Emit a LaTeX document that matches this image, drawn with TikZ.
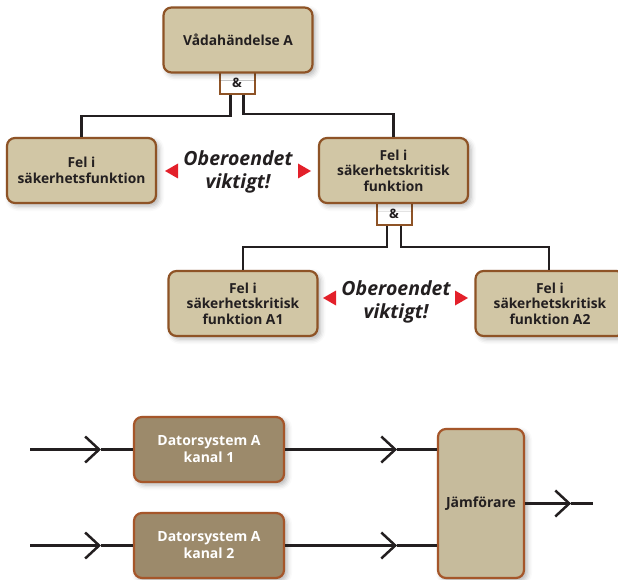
\documentclass[tikz,border=0pt]{standalone}
\usepackage{fontspec}
\setmainfont{Open Sans}
\usetikzlibrary{arrows.meta,shadows.blur}

\definecolor{boxfill}{HTML}{D1C6A5}
\definecolor{boxedge}{HTML}{8E5326}
\definecolor{darkfill}{HTML}{9C8A6B}
\definecolor{cmpfill}{HTML}{C6BB9C}
\definecolor{cmpedge}{HTML}{A5562A}
\definecolor{ink}{HTML}{231F20}
\definecolor{warnred}{HTML}{E3202A}

\begin{document}
\begin{tikzpicture}[x=1pt,y=-1pt,
  softshadow/.style={blur shadow={shadow xshift=3pt,shadow yshift=-3pt,
      shadow blur radius=5pt,shadow opacity=30}},
  event/.style={draw=boxedge,line width=2.2pt,fill=boxfill,rounded corners=8pt,
      minimum width=149pt,minimum height=65pt,inner sep=0pt,align=center,
      text=ink,font=\bfseries\fontsize{13.8}{15.5}\selectfont,softshadow},
  andgate/.style={draw=boxedge,line width=2pt,fill=white,minimum width=35pt,
      minimum height=23pt,inner sep=0pt,text=ink,
      font=\bfseries\fontsize{13}{13}\selectfont},
  wire/.style={line width=2.5pt,draw=ink},
  note/.style={align=center,text=ink,inner sep=0pt,
      font=\bfseries\itshape\fontsize{19.5}{23}\selectfont},
  warn/.style={fill=warnred},
  chev/.style={-{Straight Barb[length=14pt,width=26pt]}},
  sysbox/.style={draw=cmpedge,line width=2.2pt,fill=darkfill,rounded corners=8pt,
      minimum width=150pt,minimum height=65pt,inner sep=0pt,align=center,
      text=white,font=\bfseries\fontsize{14}{17}\selectfont,softshadow},
  cmpbox/.style={draw=cmpedge,line width=2.2pt,fill=cmpfill,rounded corners=8pt,
      minimum width=86pt,minimum height=149pt,inner sep=0pt,align=center,
      text=ink,font=\bfseries\fontsize{14}{17}\selectfont,softshadow}]
\useasboundingbox (0,0) rectangle (618,580);

% ---- fault tree ----
\node[andgate,anchor=north] (g1) at (237,70) {\&};
\node[event] (top) at (238,40) {Vådahändelse A};

\node[event] (L) at (81.5,170.5) {Fel i\\säkerhetsfunktion};
\node[andgate,anchor=north] (g2) at (394,201) {\&};
\node[event] (R) at (393.5,170.5) {Fel i\\säkerhetskritisk\\funktion};

\node[event] (A1) at (243,303.5) {Fel i\\säkerhetskritisk\\funktion A1};
\node[event] (A2) at (550,303.5) {Fel i\\säkerhetskritisk\\funktion A2};

\draw[wire] ([xshift=-6.5pt]g1.south) -- ++(0,21) -| (L.north);
\draw[wire] ([xshift=6.5pt]g1.south) -- ++(0,19) -| (R.north);
\draw[wire] ([xshift=-7pt]g2.south) -- ++(0,21) -| (A1.north);
\draw[wire] ([xshift=7pt]g2.south) -- ++(0,21) -| ([xshift=-1pt]A2.north);

\node[note] (n1) at (238,172) {Oberoendet\\viktigt!};
\fill[warn] (165,171) -- (178,163.5) -- (178,178.5) -- cycle;
\fill[warn] (311,171) -- (298,163.5) -- (298,178.5) -- cycle;

\node[note] (n2) at (396,302) {Oberoendet\\viktigt!};
\fill[warn] (323,298) -- (336,290.5) -- (336,305.5) -- cycle;
\fill[warn] (468,298) -- (455,290.5) -- (455,305.5) -- cycle;

% ---- redundant channels with comparator ----
\node[sysbox] (D1) at (209,449.5) {Datorsystem A\\kanal 1};
\node[sysbox] (D2) at (209,545.5) {Datorsystem A\\kanal 2};
\node[cmpbox] (J) at (481,503.5) {Jämförare};

\coordinate (in1) at (30,449.5);
\coordinate (in2) at (30,545.5);
\coordinate (out) at (593,503.5);

\draw[wire,chev] (in1) -- ++(71,0) coordinate (t1);
\draw[wire] (t1) -- (D1.west);
\draw[wire,chev] (in2) -- ++(71,0) coordinate (t2);
\draw[wire] (t2) -- (D2.west);

\draw[wire,chev] (D1.east) -- ++(112,0) coordinate (t3);
\draw[wire] (t3) -- (D1.east -| J.west);
\draw[wire,chev] (D2.east) -- ++(112,0) coordinate (t4);
\draw[wire] (t4) -- (D2.east -| J.west);

\draw[wire,chev] (J.east) -- ++(46,0) coordinate (t5);
\draw[wire] (t5) -- (out);
\end{tikzpicture}
\end{document}
